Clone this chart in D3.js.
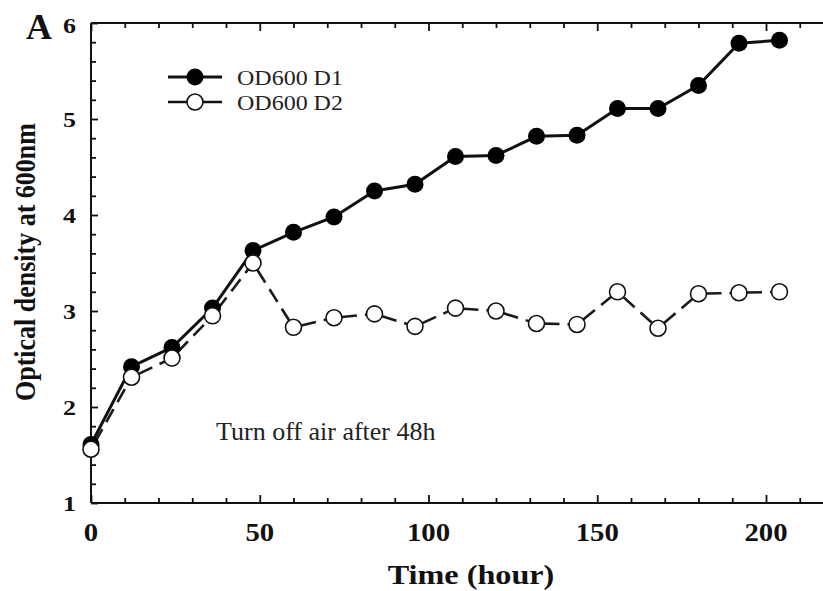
<!DOCTYPE html>
<html><head><meta charset="utf-8">
<script src="https://cdn.jsdelivr.net/npm/d3@7"></script>
<style>html,body{margin:0;padding:0;background:#fff;}svg{display:block;}</style>
</head><body>
<script>
const hours = [0,12,24,36,48,60,72,84,96,108,120,132,144,156,168,180,192,204];
const od600D1 = [1.61,2.42,2.62,3.03,3.63,3.82,3.98,4.25,4.32,4.61,4.62,4.82,4.83,5.11,5.11,5.35,5.79,5.82];
const od600D2 = [1.56,2.31,2.51,2.95,3.50,2.83,2.93,2.97,2.84,3.03,3.00,2.87,2.86,3.20,2.82,3.18,3.19,3.20];
const xTicks = [0,50,100,150,200];
const yTicks = [1,2,3,4,5,6];
const seriesNames = ["OD600 D1","OD600 D2"];

const W = 823, H = 591;
const svg = d3.select("body").append("svg").attr("width",W).attr("height",H);
const x = d3.scaleLinear().domain([0,220]).range([91,833.5]);
const y = d3.scaleLinear().domain([1,6]).range([503,23]);
const ink = "#111";
const serif = "Liberation Serif, Times New Roman, Times, Tinos, serif";

// axes frame
const g = svg.append("g");
g.append("line").attr("x1",x(0)).attr("x2",x(0)).attr("y1",y(6)).attr("y2",y(1)).attr("stroke",ink).attr("stroke-width",2);
g.append("line").attr("x1",x(0)).attr("x2",x(220)).attr("y1",y(1)).attr("y2",y(1)).attr("stroke",ink).attr("stroke-width",2);
g.append("line").attr("x1",x(0)).attr("x2",x(220)).attr("y1",y(6)).attr("y2",y(6)).attr("stroke",ink).attr("stroke-width",2);

// ticks using d3 axes (inward)
const xMinor = d3.range(10,221,10).filter(v=>v%50!==0);
const yMinor = d3.range(1,6.001,0.2).map(v=>+v.toFixed(1)).filter(v=>Math.abs(v-Math.round(v))>1e-6);
function styleAx(sel){sel.select(".domain").remove();sel.selectAll("line").attr("stroke",ink).attr("stroke-width",1.8);sel.selectAll("text").remove();}
g.append("g").attr("transform",`translate(0,${y(1)})`).call(d3.axisTop(x).tickValues(xTicks).tickSize(8)).call(styleAx);
g.append("g").attr("transform",`translate(0,${y(1)})`).call(d3.axisTop(x).tickValues(xMinor).tickSize(5)).call(styleAx);
g.append("g").attr("transform",`translate(0,${y(6)})`).call(d3.axisBottom(x).tickValues(xTicks).tickSize(8)).call(styleAx);
g.append("g").attr("transform",`translate(0,${y(6)})`).call(d3.axisBottom(x).tickValues(xMinor).tickSize(5)).call(styleAx);
g.append("g").attr("transform",`translate(${x(0)},0)`).call(d3.axisRight(y).tickValues(yTicks).tickSize(7)).call(styleAx);
g.append("g").attr("transform",`translate(${x(0)},0)`).call(d3.axisRight(y).tickValues(yMinor).tickSize(5)).call(styleAx);

// tick labels
xTicks.forEach(t=>{
  svg.append("text").attr("transform",`translate(${x(t)},541) scale(1.15,1)`)
    .attr("text-anchor","middle").attr("font-family",serif).attr("font-weight","bold")
    .attr("font-size",25).attr("fill",ink).text(t);
});
yTicks.forEach(t=>{
  svg.append("text").attr("transform",`translate(76,${y(t)+ (t===6?10:8)}) scale(1.18,1)`)
    .attr("text-anchor","end").attr("font-family",serif).attr("font-weight","bold")
    .attr("font-size",22).attr("fill",ink).text(t);
});

// panel letter
svg.append("text").attr("x",26).attr("y",39).attr("font-family",serif).attr("font-weight","bold")
  .attr("font-size",36).attr("fill",ink).text("A");

// axis titles
svg.append("text").attr("transform","translate(471,584) scale(1.15,1)").attr("text-anchor","middle")
  .attr("font-family",serif).attr("font-weight","bold").attr("font-size",28).attr("fill",ink).text("Time (hour)");
svg.append("text").attr("transform","translate(35,262) scale(1.15,1) rotate(-90)").attr("text-anchor","middle")
  .attr("font-family",serif).attr("font-weight","bold").attr("font-size",26).attr("fill",ink).text("Optical density at 600nm");

// annotation
svg.append("text").attr("x",216).attr("y",440).attr("font-family",serif).attr("font-size",26)
  .attr("fill","#222").text("Turn off air after 48h");

// D1 line
const d1 = hours.map((h,i)=>({h,v:od600D1[i]}));
const d2 = hours.map((h,i)=>({h,v:od600D2[i]}));
svg.append("path").datum(d1).attr("d",d3.line().x(d=>x(d.h)).y(d=>y(d.v)))
  .attr("fill","none").attr("stroke",ink).attr("stroke-width",3);

// D2 dashed segments from circle edge to circle edge
const r2 = 8;
for(let i=0;i<d2.length-1;i++){
  const x1=x(d2[i].h), y1=y(d2[i].v), x2=x(d2[i+1].h), y2=y(d2[i+1].v);
  const dx=x2-x1, dy=y2-y1, L=Math.hypot(dx,dy);
  const ux=dx/L, uy=dy/L;
  svg.append("line").attr("x1",x1+ux*r2).attr("y1",y1+uy*r2).attr("x2",x2-ux*r2).attr("y2",y2-uy*r2)
    .attr("stroke","#1a1a1a").attr("stroke-width",2.6).attr("stroke-dasharray","15,8");
}
svg.selectAll("circle.d1").data(d1).enter().append("circle").attr("class","d1")
  .attr("cx",d=>x(d.h)).attr("cy",d=>y(d.v)).attr("r",8.5).attr("fill","#000");
svg.selectAll("circle.d2").data(d2).enter().append("circle").attr("class","d2")
  .attr("cx",d=>x(d.h)).attr("cy",d=>y(d.v)).attr("r",r2).attr("fill","#fff").attr("stroke","#111").attr("stroke-width",1.6);

// legend
const lg = svg.append("g");
[[77,true],[102,false]].forEach(([ly,filled],i)=>{
  lg.append("line").attr("x1",168).attr("x2",222).attr("y1",ly).attr("y2",ly).attr("stroke",ink).attr("stroke-width",filled?3:2.6);
  lg.append("circle").attr("cx",195).attr("cy",ly).attr("r",filled?8.5:8)
    .attr("fill",filled?"#000":"#fff").attr("stroke","#111").attr("stroke-width",filled?0:1.6);
  lg.append("text").attr("transform",`translate(237,${ly+7.5}) scale(1.2,1)`).attr("font-family",serif)
    .attr("font-size",20).attr("fill","#222").text(seriesNames[i]);
});
</script>
</body></html>
